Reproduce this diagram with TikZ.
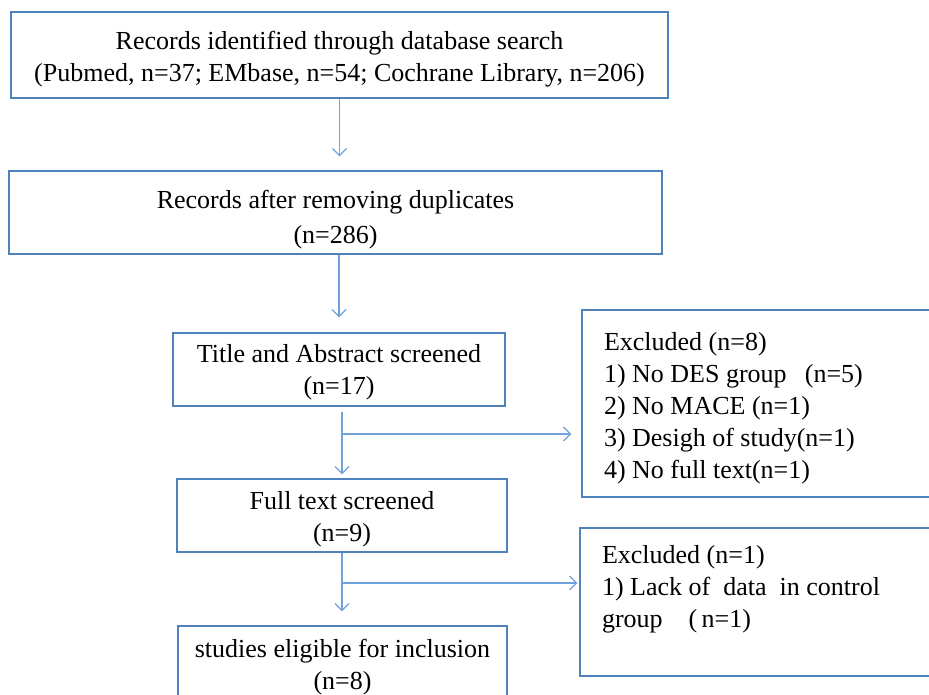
\documentclass[tikz,border=0pt]{standalone}
\usepackage{fontspec}
\setmainfont{Liberation Serif}
\usetikzlibrary{arrows.meta}
\definecolor{boxline}{RGB}{79,129,189}
\definecolor{arrline}{RGB}{112,162,220}
% pushes the first line of a box a little lower
\newcommand{\toppad}[1]{\rule{0pt}{#1}}

\begin{document}
\begin{tikzpicture}[x=1pt,y=-1pt,
  box/.style={draw=boxline,line width=1.3pt,shape=rectangle,align=center,
    font=\fontsize{26}{32}\selectfont,inner sep=0pt},
  exbox/.style={box,align=flush left,inner xsep=22pt,text width=326pt,minimum width=370pt},
  flow/.style={draw=arrline,line width=1.2pt,-{Straight Barb[length=7pt,width=14pt]}}]
\useasboundingbox (0,0) rectangle (929,695);
\clip (0,0) rectangle (929,695);

% main column
\path (339.5,55) node[box,minimum width=657pt,minimum height=86pt] (search)
  {\toppad{27pt}Records identified through database search\\(Pubmed, n=37; EMbase, n=54; Cochrane Library, n=206)};
\path (335.5,212.5) node[box,minimum width=653pt,minimum height=83pt] (dedup)
  {\toppad{33pt}Records after removing duplicates\\[3pt](n=286)};
\path (339,369.5) node[box,minimum width=332pt,minimum height=73pt] (screen)
  {\toppad{23pt}Title and Abstract screened\\(n=17)};
\path (342,515.5) node[box,minimum width=330pt,minimum height=73pt] (full)
  {\toppad{26pt}Full text screened\\(n=9)};
\path (342.5,662.5) node[box,minimum width=329pt,minimum height=73pt] (incl)
  {\toppad{27pt}studies eligible for inclusion\\(n=8)};

% exclusion boxes
\path (767,403.5) node[exbox,minimum height=187pt] (exA)
  {\toppad{28pt}Excluded (n=8)\\1) No DES group\hspace{0.7em}(n=5)\\2) No MACE (n=1)\\3) Desigh of study(n=1)\\4) No full text(n=1)};
\path (765,602) node[exbox,minimum height=148pt] (exB)
  {Excluded (n=1)\\1) Lack of\ \ data\ \ in control\\group\quad(\,n=1)\\\mbox{}};

\coordinate (cut1) at (342,434);
\coordinate (cut2) at (342,583);

\draw[flow,shorten >=14pt] (search.south) -- (search.south |- dedup.north);
\draw[flow,shorten >=15pt] (dedup.south -| screen) -- (screen.north);
\draw[flow,shorten <=5pt,shorten >=4pt] (screen.south -| full) -- (full.north);
\draw[flow,shorten >=10pt] (cut1) -- (cut1 -| exA.west);
\draw[flow,shorten >=14pt] (full.south) -- (full.south |- incl.north);
\draw[flow,shorten >=2pt] (cut2) -- (cut2 -| exB.west);

\end{tikzpicture}
\end{document}
